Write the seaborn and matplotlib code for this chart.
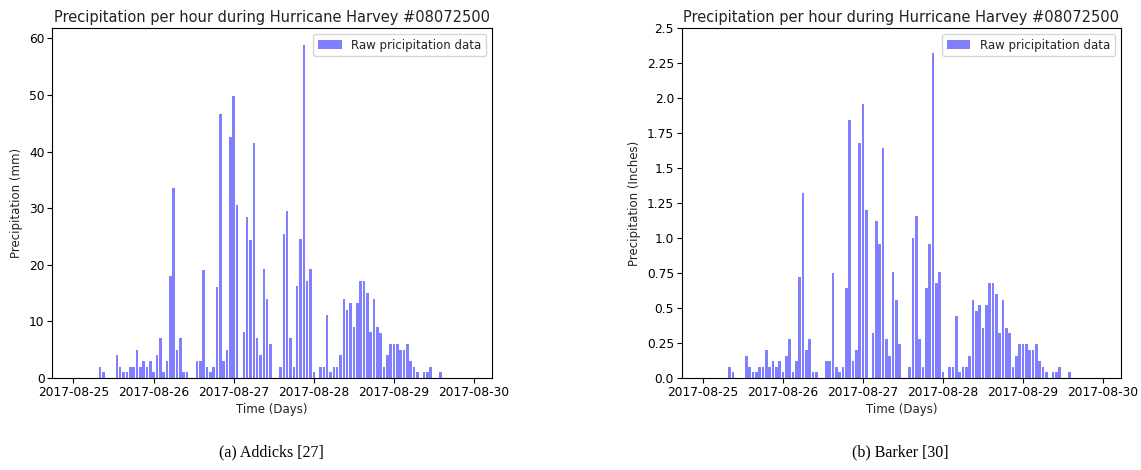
import numpy as np
import pandas as pd
import matplotlib
matplotlib.use("Agg")
import matplotlib.pyplot as plt
import matplotlib.dates as mdates
import seaborn as sns

# ---- data (hourly, 2017-08-25 00:00 .. 2017-08-29 23:00) ----
start_time = "2017-08-25 00:00"
n_hours = 120

addicks_mm = [
    0, 0, 0, 0, 0, 0, 0, 0, 2, 1, 0, 0, 0, 4, 2, 1, 1, 2, 2, 5, 2, 3, 2, 3,
    1, 4, 7, 1, 3, 18, 33.5, 5, 7, 1, 1, 0, 0, 3, 3, 19, 2, 1, 2, 16, 46.7, 3, 5, 42.5,
    49.8, 30.5, 0, 8.2, 28.4, 24.4, 41.5, 7, 4, 19.2, 14, 6, 0, 0, 2, 25.5, 29.5, 7, 2, 16.2, 24.5, 58.9, 17.2, 19.2,
    1, 0, 2, 2, 11.2, 1, 2, 2, 4, 14, 12, 13.2, 9, 13.2, 17.2, 17.2, 15, 8.2, 14, 9, 8, 2, 4, 6,
    6, 6, 5, 5, 6, 3, 2, 1, 0, 1, 1, 2, 0, 0, 1, 0, 0, 0, 0, 0, 0, 0, 0, 0,
]

barker_in = [
    0, 0, 0, 0, 0, 0, 0, 0, 0.08, 0.04, 0, 0, 0, 0.16, 0.08, 0.04, 0.04, 0.08, 0.08, 0.2, 0.08, 0.12, 0.08, 0.12,
    0.04, 0.16, 0.28, 0.04, 0.12, 0.72, 1.32, 0.2, 0.28, 0.04, 0.04, 0, 0, 0.12, 0.12, 0.75, 0.08, 0.04, 0.08, 0.64, 1.84, 0.12, 0.2, 1.68,
    1.96, 1.2, 0, 0.32, 1.12, 0.96, 1.64, 0.28, 0.16, 0.76, 0.56, 0.24, 0, 0, 0.08, 1.0, 1.16, 0.28, 0.08, 0.64, 0.96, 2.32, 0.68, 0.76,
    0.04, 0, 0.08, 0.08, 0.44, 0.04, 0.08, 0.08, 0.16, 0.56, 0.48, 0.52, 0.36, 0.52, 0.68, 0.68, 0.6, 0.32, 0.56, 0.36, 0.32, 0.08, 0.16, 0.24,
    0.24, 0.24, 0.2, 0.2, 0.24, 0.12, 0.08, 0.04, 0, 0.04, 0.04, 0.08, 0, 0, 0.04, 0, 0, 0, 0, 0, 0, 0, 0, 0,
]

title_text = "Precipitation per hour during Hurricane Harvey #08072500"
legend_label = "Raw pricipitation data"
xlabel_text = "Time (Days)"
ylabel_left = "Precipitation (mm)"
ylabel_right = "Precipitation (Inches)"
caption_left = "(a) Addicks [27]"
caption_right = "(b) Barker [30]"
right_ticks = [0.0, 0.25, 0.5, 0.75, 1.0, 1.25, 1.5, 1.75, 2.0, 2.25, 2.5]
right_ticklabels = ["0.0", "0.25", "0.5", "0.75", "1.0", "1.25", "1.5", "1.75", "2.0", "2.25", "2.5"]

# ---- style ----
sns.set_style("ticks")
plt.rcParams.update({
    "axes.edgecolor": "black",
    "axes.linewidth": 0.8,
    "xtick.color": "black",
    "ytick.color": "black",
    "xtick.direction": "out",
    "ytick.direction": "out",
    "xtick.major.size": 3.5,
    "ytick.major.size": 3.5,
    "text.color": "#222222",
    "axes.labelcolor": "#222222",
})
plt.rcParams["font.family"] = ["DejaVu Sans"]

times = pd.date_range(start_time, periods=n_hours, freq="h")
xnum = mdates.date2num(times.to_pydatetime())
hour = 1.0 / 24.0

df = pd.DataFrame({"t": xnum, "mm": addicks_mm, "inch": barker_in})

fig = plt.figure(figsize=(11.41, 4.70), dpi=100)
ax1 = fig.add_axes([0.0458, 0.1957, 0.3854, 0.7447])
ax2 = fig.add_axes([0.5975, 0.1957, 0.3848, 0.7447])

for ax, col, ylab in [(ax1, "mm", ylabel_left), (ax2, "inch", ylabel_right)]:
    sns.histplot(data=df, x="t", weights=col, binwidth=hour,
                 binrange=(xnum[0] - 0.5 * hour, xnum[-1] + 0.5 * hour),
                 color="blue", alpha=0.5, shrink=0.75, linewidth=0,
                 label=legend_label, ax=ax)
    ax.xaxis.set_major_locator(mdates.DayLocator())
    ax.xaxis.set_major_formatter(mdates.DateFormatter("%Y-%m-%d"))
    ax.set_title(title_text, fontsize=10.5, pad=4)
    ax.set_xlabel(xlabel_text, fontsize=8.5, labelpad=3)
    ax.set_ylabel(ylab, fontsize=8.5)
    ax.tick_params(axis="both", labelsize=8.8, pad=2)
    ax.legend(loc="upper right", fontsize=8.5, frameon=True, handlelength=2)
    ax.grid(False)

ax2.set_ylim(0, 2.5)
ax2.set_yticks(right_ticks)
ax2.set_yticklabels(right_ticklabels)

fig.text(0.238, 0.038, caption_left, ha="center", va="center",
         fontsize=11.5, family=["Liberation Serif", "DejaVu Serif"], color="black")
fig.text(0.789, 0.038, caption_right, ha="center", va="center",
         fontsize=11.5, family=["Liberation Serif", "DejaVu Serif"], color="black")

fig.savefig("out.png", dpi=100, facecolor="white")
